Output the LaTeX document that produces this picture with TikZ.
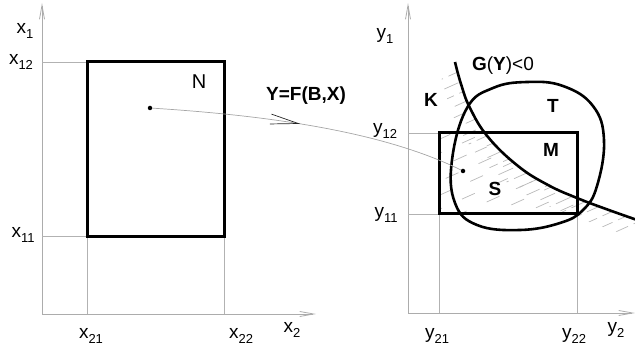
\documentclass[tikz,border=0pt]{standalone}
\usepackage{fontspec}
\setmainfont{Liberation Sans}
\usetikzlibrary{arrows.meta,decorations.markings}
\newcommand\mysb[1]{\raisebox{-0.3em}{\fontsize{13}{13}\selectfont #1}}
\begin{document}
\begin{tikzpicture}[x=1pt,y=-1pt,
 axis/.style={draw=gray!65, line width=0.8pt, -{Straight Barb[length=14pt,width=5pt]}},
 gridl/.style={draw=gray!60, line width=0.7pt},
 box/.style={draw=black, line width=3pt},
 curv/.style={draw=black, line width=2.6pt},
 hatch/.style={draw=gray!55, line width=0.7pt},
 lbl/.style={inner sep=0pt, font=\fontsize{19}{19}\selectfont},
 blbl/.style={inner sep=0pt, font=\fontsize{19}{19}\selectfont\bfseries},
 dotn/.style={circle, fill=black, inner sep=0pt, minimum size=4.5pt}]
\useasboundingbox (0,0) rectangle (635,347);

% hatching along G
\begin{scope}
\clip plot[smooth, tension=0.7] coordinates {(455,62) (461,84) (470,108) (488,137) (518,166) (548,185) (577,198) (606,209) (640,221)}
 -- plot[smooth, tension=0.7] coordinates {(626,235) (592,223) (563,212) (534,199) (504,180) (474,151) (456,122) (447,98) (441,76)} -- cycle;
\foreach \i in {0,...,34} \draw[hatch, dash pattern=on 16pt off 6pt, dash phase={5*\i}] (380,{30+11*\i}) -- ++(300,-135);
\end{scope}
% sparse hatching inside the rectangle
\begin{scope}
\clip (439,133) rectangle (577,214);
\clip plot[smooth, tension=0.7] coordinates {(455,62) (461,84) (470,108) (488,137) (518,166) (548,185) (577,198) (606,209) (640,221)}
 -- (640,347) -- (400,347) -- (400,62) -- cycle;
\foreach \i in {0,...,24} \draw[hatch, dash pattern=on 14pt off 22pt, dash phase={9*\i}] (380,{40+14*\i}) -- ++(300,-135);
\end{scope}

% left axes
\coordinate (lo) at (42,314);
\coordinate (ltop) at (42,3);
\coordinate (lright) at (316,314);
\draw[axis] (lo) -- (ltop);
\draw[axis] (lo) -- (lright);
\draw[gridl] (42,62) -- (87,62);
\draw[gridl] (42,236) -- (87,236);
\draw[gridl] (87,237) -- (87,314);
\draw[gridl] (224,237) -- (224,314);
\draw[box] (87,62) rectangle (224,237);

% right axes
\coordinate (ro) at (408,313);
\coordinate (rtop) at (408,3);
\coordinate (rright) at (635,313);
\draw[axis] (ro) -- (rtop);
\draw[axis] (ro) -- (rright);
\draw[gridl] (408,133) -- (439,133);
\draw[gridl] (408,214) -- (439,214);
\draw[gridl] (439,214) -- (439,313);
\draw[gridl] (577,214) -- (577,313);
\draw[box] (439,133) rectangle (577,214);

% curve G and region T
\draw[curv] plot[smooth, tension=0.7] coordinates {(455,62) (461,84) (470,108) (488,137) (518,166) (548,185) (577,198) (606,209) (640,221)};
\draw[curv] plot[smooth cycle, tension=0.7] coordinates {(452,160) (467,108) (493,88) (527,82) (563,86) (593,106) (604,140) (597,186) (583,210) (560,223) (520,230) (477,225) (455,203)};

% mapping
\node[dotn] (pa) at (150,108) {};
\node[dotn] (pb) at (463,171) {};
\draw[gray!70, line width=0.7pt, decoration={markings, mark=at position 0.47 with {\arrow[gray!30!black]{Straight Barb[length=28pt,width=10pt]}}}, postaction={decorate}]
 (pa) .. controls (260,115) and (380,130) .. (pb);

% labels
\node[lbl] (lx1) at (25,31) {x\mysb{1}};
\node[lbl] (lx12) at (21,62) {x\mysb{12}};
\node[lbl] (lx11) at (23,235) {x\mysb{11}};
\node[lbl] (lx21) at (91,336) {x\mysb{21}};
\node[lbl] (lx22) at (241,336) {x\mysb{22}};
\node[lbl] (lx2) at (292,330) {x\mysb{2}};
\node[lbl, font=\fontsize{20}{20}\selectfont] (lN) at (199,82) {N};
\node[blbl] (lF) at (306,96) {Y=F(B,X)};
\node[lbl] (ly1) at (385,36) {y\mysb{1}};
\node[lbl] (ly12) at (385,131) {y\mysb{12}};
\node[lbl] (ly11) at (386,215) {y\mysb{11}};
\node[lbl] (ly21) at (437,336) {y\mysb{21}};
\node[lbl] (ly22) at (574,336) {y\mysb{22}};
\node[lbl] (ly2) at (616,330) {y\mysb{2}};
\node[blbl] (lK) at (431,100) {K};
\node[blbl] (lT) at (553,106) {T};
\node[blbl] (lM) at (551,150) {M};
\node[blbl] (lS) at (495,189) {S};
\node[lbl] (lG) at (503,66) {\textbf{G}(\textbf{Y})<0};
\end{tikzpicture}
\end{document}
